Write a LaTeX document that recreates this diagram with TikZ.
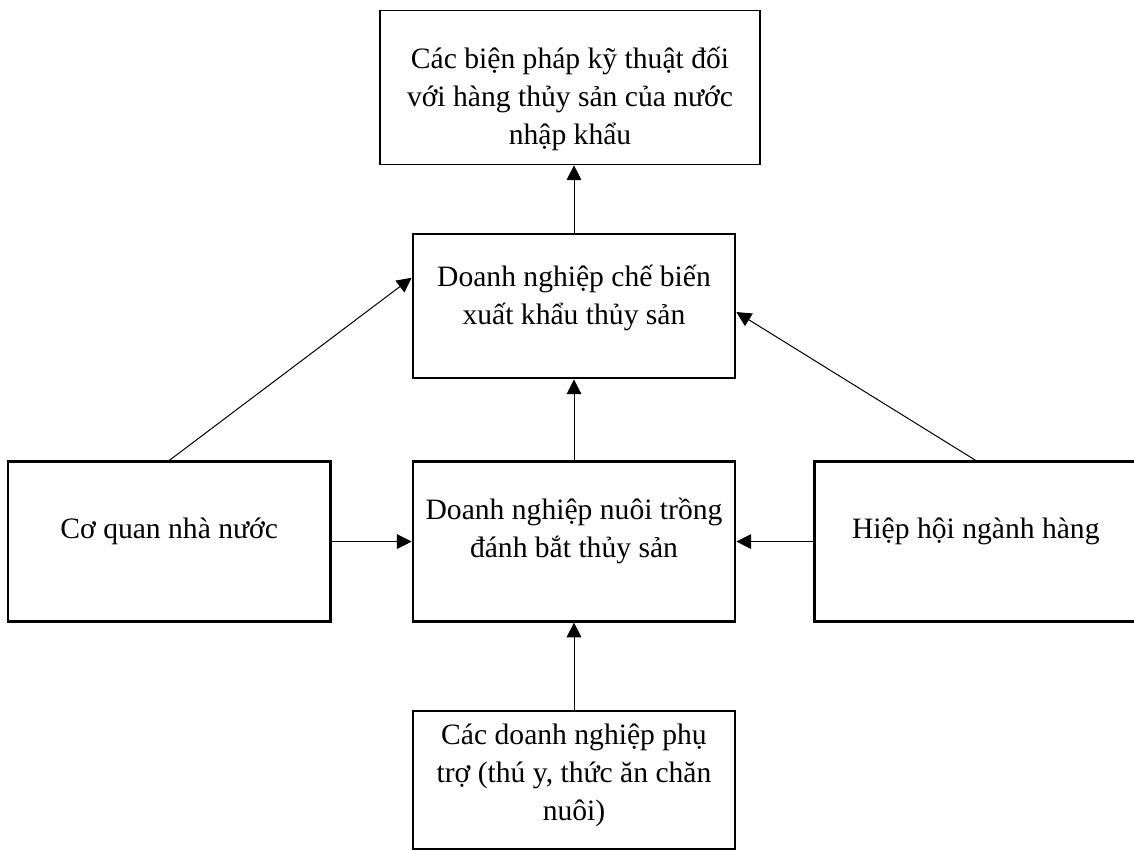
\documentclass[tikz,border=0pt]{standalone}
\usepackage{fontspec}
\setmainfont{Liberation Serif}
\usetikzlibrary{positioning, arrows.meta}

\begin{document}
\begin{tikzpicture}[
  boxnode/.style={rectangle, draw=black, line width=1.6pt, align=center, inner sep=2pt,
    minimum width=242pt, minimum height=120pt, text depth=20pt, font=\fontsize{22.2}{28.5}\selectfont},
  topnode/.style={boxnode, line width=0.8pt, minimum width=285pt, minimum height=116pt},
  arrowline/.style={-{Triangle[length=11pt,width=11pt]}, line width=0.75pt}
  ]
  \useasboundingbox (0,0) rectangle (850.5pt,-638.25pt);

  % Boxes
  \node[topnode]  (bienphap)   at (427.5pt,-65.6pt)   [text height=86pt, text depth=0pt] {Các biện pháp kỹ thuật đối\\với hàng thủy sản của nước\\nhập khẩu};
  \node[boxnode]  (chebien)    [below=51pt of bienphap, xshift=3pt, minimum height=108pt, text depth=17pt] {Doanh nghiệp chế biến\\xuất khẩu thủy sản};
  \node[boxnode]  (nuoitrong)  [below=60.75pt of chebien]    {Doanh nghiệp nuôi trồng\\đánh bắt thủy sản};
  \node[boxnode]  (coquan)     [left=60pt of nuoitrong]      {Cơ quan nhà nước};
  \node[boxnode]  (hiephoi)    [right=57.75pt of nuoitrong]  {Hiệp hội ngành hàng};
  \node[boxnode]  (phutro)     [below=65.25pt of nuoitrong, minimum height=104pt, text depth=11pt] {Các doanh nghiệp phụ\\trợ (thú y, thức ăn chăn\\nuôi)};

  % Arrows
  \draw[arrowline] (chebien.north)   -- (chebien.north |- bienphap.south);
  \draw[arrowline] (nuoitrong.north) -- (chebien.south);
  \draw[arrowline] (coquan.north)    -- (chebien.170);
  \draw[arrowline] (hiephoi.north)   -- (chebien.358);
  \draw[arrowline] (coquan.east)     -- (nuoitrong.west);
  \draw[arrowline] (hiephoi.west)    -- (nuoitrong.east);
  \draw[arrowline] (phutro.north)    -- (nuoitrong.south);

\end{tikzpicture}
\end{document}
